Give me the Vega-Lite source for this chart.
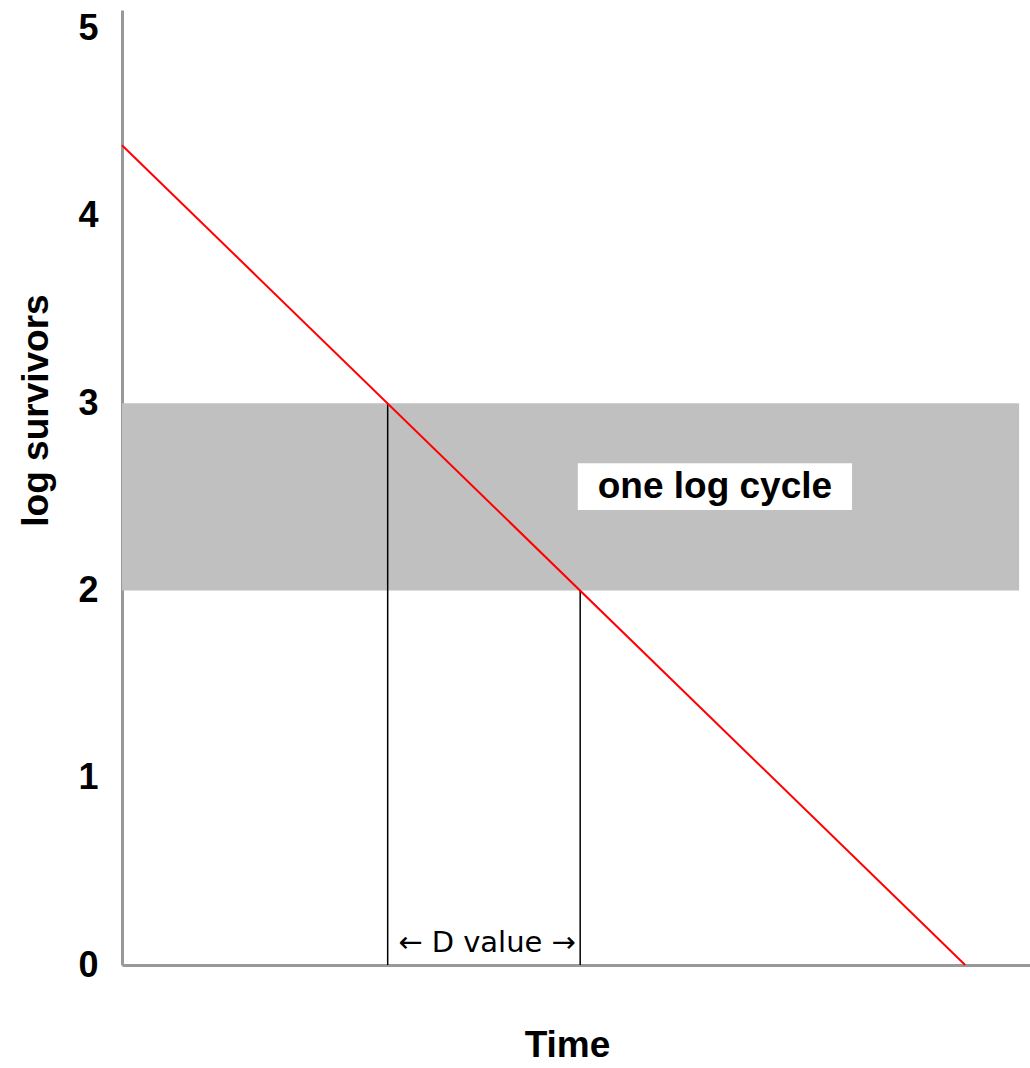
{
  "$schema": "https://vega.github.io/schema/vega-lite/v6.json",
  "width": 908,
  "height": 955,
  "autosize": {"type": "none"},
  "padding": {"left": 122, "top": 10, "right": 0, "bottom": 103},
  "background": "white",
  "config": {
    "view": {"stroke": null},
    "font": "Liberation Sans"
  },
  "datasets": {
    "band": [{"x": 0, "x2": 9.88, "y": 2, "y2": 3}],
    "line": [{"x": 0, "y": 4.378}, {"x": 9.286, "y": 0}],
    "rules": [{"x": 2.926, "y": 0, "y2": 3}, {"x": 5.046, "y": 0, "y2": 2}],
    "box": [{"x": 5.02, "x2": 8.04, "y": 2.43, "y2": 2.68}],
    "label": [{"x": 6.53, "y": 2.555, "text": "one log cycle"}],
    "dlabel": [{"x": 4.02, "y": 0.117, "text": "← D value →"}]
  },
  "encoding": {
    "x": {
      "field": "x", "type": "quantitative",
      "scale": {"domain": [0, 10], "nice": false, "zero": false},
      "axis": {
        "title": "Time", "labels": false, "ticks": false, "grid": false,
        "domainColor": "#999999", "domainWidth": 3,
        "titleFont": "Liberation Sans", "titleFontSize": 37, "titleFontWeight": "bold", "titleColor": "black",
        "titleX": 445, "titleY": 62
      }
    },
    "y": {
      "field": "y", "type": "quantitative",
      "scale": {"domain": [0, 5.1], "nice": false, "zero": false},
      "axis": {
        "title": "log survivors", "values": [0, 1, 2, 3, 4, 5], "ticks": false, "grid": false,
        "tickSize": 0, "labelPadding": 24,
        "labelFont": "Liberation Sans", "labelFontSize": 36, "labelFontWeight": "bold", "labelColor": "black",
        "domainColor": "#999999", "domainWidth": 3,
        "titleFont": "Liberation Sans", "titleFontSize": 37, "titleFontWeight": "bold", "titleColor": "black",
        "titleX": -67, "titleY": 400
      }
    }
  },
  "layer": [
    {
      "data": {"name": "band"},
      "mark": {"type": "rect", "color": "#c0c0c0"},
      "encoding": {"x2": {"field": "x2"}, "y2": {"field": "y2"}}
    },
    {
      "data": {"name": "rules"},
      "mark": {"type": "rule", "color": "black", "strokeWidth": 1.5},
      "encoding": {"y2": {"field": "y2"}}
    },
    {
      "data": {"name": "line"},
      "mark": {"type": "line", "color": "#ff0000", "strokeWidth": 2},
      "encoding": {}
    },
    {
      "data": {"name": "box"},
      "mark": {"type": "rect", "color": "white"},
      "encoding": {"x2": {"field": "x2"}, "y2": {"field": "y2"}}
    },
    {
      "data": {"name": "label"},
      "mark": {"type": "text", "font": "Liberation Sans", "fontSize": 37, "fontWeight": "bold", "color": "black", "align": "center", "baseline": "middle"},
      "encoding": {"text": {"field": "text"}}
    },
    {
      "data": {"name": "dlabel"},
      "mark": {"type": "text", "font": "DejaVu Sans", "fontSize": 29, "color": "black", "align": "center", "baseline": "middle"},
      "encoding": {"text": {"field": "text"}}
    }
  ]
}
